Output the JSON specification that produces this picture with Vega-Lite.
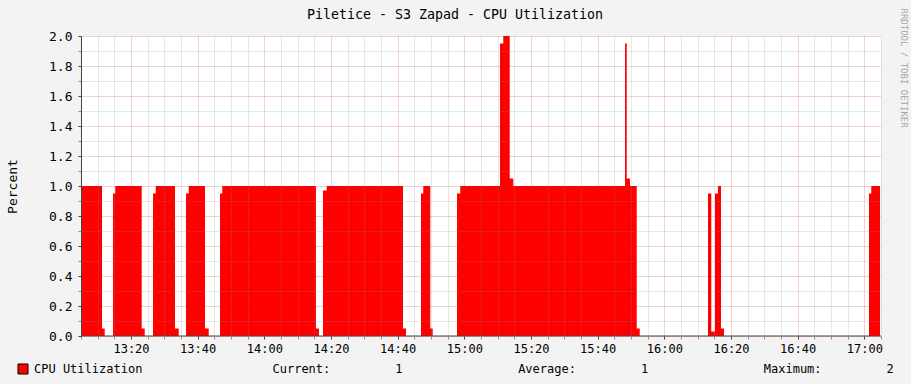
{
  "$schema": "https://vega.github.io/schema/vega-lite/v6.json",
  "width": 800,
  "height": 300,
  "autosize": "none",
  "padding": {"left": 81, "top": 36, "right": 30, "bottom": 48},
  "background": "#f3f3f3",
  "config": {
    "view": {"stroke": null, "fill": "#ffffff"},
    "font": "DejaVu Sans Mono"
  },
  "title": {
    "text": "Piletice - S3 Zapad - CPU Utilization",
    "font": "DejaVu Sans Mono",
    "fontSize": 13.3,
    "fontWeight": "normal",
    "color": "#000000",
    "anchor": "middle",
    "frame": "group",
    "dx": -26,
    "offset": -13
  },
  "layer": [
    {
      "data": {"values": [
      {"t": "2024-01-01T13:05:00", "cpu": 1.0},
      {"t": "2024-01-01T13:11:18", "cpu": 0.05},
      {"t": "2024-01-01T13:12:07", "cpu": 0},
      {"t": "2024-01-01T13:14:36", "cpu": 0.95},
      {"t": "2024-01-01T13:15:17", "cpu": 1.0},
      {"t": "2024-01-01T13:23:13", "cpu": 0.05},
      {"t": "2024-01-01T13:24:07", "cpu": 0},
      {"t": "2024-01-01T13:26:36", "cpu": 0.95},
      {"t": "2024-01-01T13:27:25", "cpu": 1.0},
      {"t": "2024-01-01T13:33:12", "cpu": 0.05},
      {"t": "2024-01-01T13:34:19", "cpu": 0},
      {"t": "2024-01-01T13:36:30", "cpu": 0.95},
      {"t": "2024-01-01T13:37:19", "cpu": 1.0},
      {"t": "2024-01-01T13:42:12", "cpu": 0.05},
      {"t": "2024-01-01T13:43:19", "cpu": 0},
      {"t": "2024-01-01T13:46:42", "cpu": 0.95},
      {"t": "2024-01-01T13:47:23", "cpu": 1.0},
      {"t": "2024-01-01T14:15:30", "cpu": 0.05},
      {"t": "2024-01-01T14:16:24", "cpu": 0},
      {"t": "2024-01-01T14:17:36", "cpu": 0.97},
      {"t": "2024-01-01T14:18:43", "cpu": 1.0},
      {"t": "2024-01-01T14:41:36", "cpu": 0.05},
      {"t": "2024-01-01T14:42:30", "cpu": 0},
      {"t": "2024-01-01T14:47:00", "cpu": 0.95},
      {"t": "2024-01-01T14:47:41", "cpu": 1.0},
      {"t": "2024-01-01T14:49:47", "cpu": 0.05},
      {"t": "2024-01-01T14:50:31", "cpu": 0},
      {"t": "2024-01-01T14:57:48", "cpu": 0.95},
      {"t": "2024-01-01T14:58:47", "cpu": 1.0},
      {"t": "2024-01-01T15:10:42", "cpu": 1.95},
      {"t": "2024-01-01T15:11:41", "cpu": 2.0},
      {"t": "2024-01-01T15:13:37", "cpu": 1.05},
      {"t": "2024-01-01T15:14:41", "cpu": 1.0},
      {"t": "2024-01-01T15:48:12", "cpu": 1.95},
      {"t": "2024-01-01T15:48:43", "cpu": 1.05},
      {"t": "2024-01-01T15:49:42", "cpu": 1.0},
      {"t": "2024-01-01T15:51:43", "cpu": 0.05},
      {"t": "2024-01-01T15:52:37", "cpu": 0},
      {"t": "2024-01-01T16:13:06", "cpu": 0.95},
      {"t": "2024-01-01T16:14:05", "cpu": 0.03},
      {"t": "2024-01-01T16:15:12", "cpu": 0.95},
      {"t": "2024-01-01T16:16:06", "cpu": 1.0},
      {"t": "2024-01-01T16:17:00", "cpu": 0.05},
      {"t": "2024-01-01T16:17:54", "cpu": 0},
      {"t": "2024-01-01T17:01:24", "cpu": 0.95},
      {"t": "2024-01-01T17:02:05", "cpu": 1.0},
      {"t": "2024-01-01T17:04:42", "cpu": 1.0}
      ]},
      "mark": {"type": "area", "interpolate": "step-after", "color": "#ff0000", "opacity": 1},
      "encoding": {
        "x": {
          "field": "t",
          "type": "temporal",
          "scale": {
            "domain": [
              {"year": 2024, "month": 1, "date": 1, "hours": 13, "minutes": 5},
              {"year": 2024, "month": 1, "date": 1, "hours": 17, "minutes": 5}
            ],
            "nice": false
          },
          "axis": {
            "tickCount": 48,
            "labelExpr": "minutes(datum.value) % 20 == 0 ? timeFormat(datum.value, '%H:%M') : ''",
            "labelFont": "DejaVu Sans Mono",
            "labelFontSize": 12,
            "labelColor": "#000000",
            "labelPadding": 4,
            "labelFlush": false,
            "labelOverlap": false,
            "labelAlign": "center",
            "grid": true,
            "gridColor": {"condition": {"test": "minutes(datum.value) % 20 == 0", "value": "#b41e1e"}, "value": "#8c8c8c"},
            "gridOpacity": 0.4,
            "gridDash": [1, 1],
            "ticks": true,
            "tickSize": 3,
            "tickColor": {"condition": {"test": "minutes(datum.value) % 20 == 0", "value": "#444444"}, "value": "#8c8c8c"},
            "domain": false,
            "zindex": 1,
            "title": "Current:\u00a0\u00a0\u00a0\u00a0\u00a0\u00a0\u00a0\u00a0\u00a01\u00a0\u00a0\u00a0\u00a0\u00a0\u00a0\u00a0\u00a0\u00a0\u00a0\u00a0\u00a0\u00a0\u00a0\u00a0\u00a0Average:\u00a0\u00a0\u00a0\u00a0\u00a0\u00a0\u00a0\u00a0\u00a01\u00a0\u00a0\u00a0\u00a0\u00a0\u00a0\u00a0\u00a0\u00a0\u00a0\u00a0\u00a0\u00a0\u00a0\u00a0\u00a0Maximum:\u00a0\u00a0\u00a0\u00a0\u00a0\u00a0\u00a0\u00a0\u00a02",
            "titleFont": "DejaVu Sans Mono",
            "titleFontSize": 12,
            "titleFontWeight": "normal",
            "titleColor": "#000000",
            "titleX": 191,
            "titleY": 32,
            "titleAlign": "left",
            "titleBaseline": "middle"
          }
        },
        "y": {
          "field": "cpu",
          "type": "quantitative",
          "scale": {"domain": [0, 2], "nice": false},
          "axis": {
            "values": [0, 0.1, 0.2, 0.3, 0.4, 0.5, 0.6, 0.7, 0.8, 0.9, 1.0, 1.1, 1.2, 1.3, 1.4, 1.5, 1.6, 1.7, 1.8, 1.9, 2.0],
            "labelExpr": "round(datum.value * 10) % 2 == 0 ? format(datum.value, '.1f') : ''",
            "labelFont": "DejaVu Sans Mono",
            "labelFontSize": 13,
            "labelColor": "#000000",
            "labelPadding": 6,
            "labelFlush": false,
            "labelOverlap": false,
            "grid": true,
            "gridColor": {"condition": {"test": "round(datum.value * 10) % 2 == 0", "value": "#b41e1e"}, "value": "#8c8c8c"},
            "gridOpacity": 0.4,
            "gridDash": [1, 1],
            "ticks": true,
            "tickSize": 3,
            "tickColor": {"condition": {"test": "round(datum.value * 10) % 2 == 0", "value": "#444444"}, "value": "#8c8c8c"},
            "domain": true,
            "domainColor": "#444444",
            "zindex": 1,
            "title": "Percent",
            "titleFont": "DejaVu Sans Mono",
            "titleFontSize": 13,
            "titleFontWeight": "normal",
            "titleColor": "#000000",
            "titleAngle": -90,
            "titleX": -69,
            "titleY": 150,
            "titleAlign": "center",
            "titleBaseline": "middle"
          }
        },
        "color": {
          "datum": "CPU Utilization",
          "type": "nominal",
          "scale": {"range": ["#ff0000"]},
          "legend": {
            "title": null,
            "orient": "none",
            "legendX": -64,
            "legendY": 327,
            "padding": 0,
            "symbolType": "square",
            "symbolSize": 100,
            "symbolStrokeColor": "#000000",
            "symbolStrokeWidth": 1,
            "symbolOpacity": 1,
            "labelFont": "DejaVu Sans Mono",
            "labelFontSize": 12,
            "labelColor": "#000000",
            "labelOffset": 5
          }
        }
      }
    },
    {
      "data": {"values": [{"base": 0}]},
      "mark": {"type": "rule", "color": "#444444", "strokeWidth": 1},
      "encoding": {
        "y": {
          "field": "base",
          "type": "quantitative",
          "axis": {
            "orient": "right",
            "labels": false,
            "ticks": false,
            "domain": false,
            "grid": false,
            "title": "RRDTOOL / TOBI OETIKER",
            "titleFont": "DejaVu Sans Mono",
            "titleFontSize": 9,
            "titleFontWeight": "normal",
            "titleColor": "#a8a8a8",
            "titleAngle": 90,
            "titleX": 22,
            "titleY": -28,
            "titleAlign": "left",
            "titleBaseline": "middle"
          }
        }
      }
    }
  ],
  "resolve": {"axis": {"y": "independent"}}
}
